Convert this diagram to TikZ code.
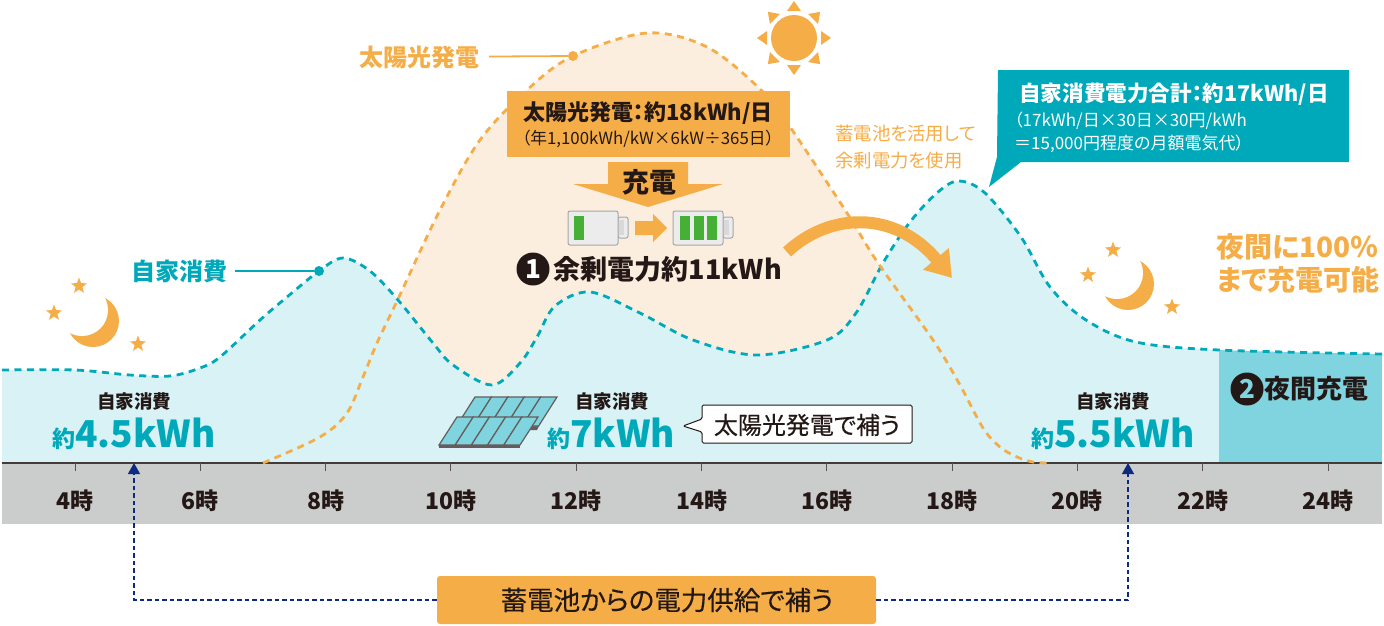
\documentclass[tikz,border=0pt]{standalone}
\usepackage{fontspec}
\setmainfont[RawFeature=+palt]{Noto Sans CJK JP}
\newfontfamily\medfont[RawFeature=+palt, FakeBold=0.35]{Noto Sans CJK JP}
\usetikzlibrary{positioning, arrows.meta, shapes.geometric}
\definecolor{sunorange}{HTML}{F5AD47}
\definecolor{solarfill}{HTML}{FCEEDF}
\definecolor{loadteal}{HTML}{00A9BA}
\definecolor{loadfill}{HTML}{D8F2F6}
\definecolor{nightfill}{HTML}{7FD4DF}
\definecolor{bandgray}{HTML}{CBCCCC}
\definecolor{inkdark}{HTML}{231815}
\definecolor{supplynavy}{HTML}{0B2A80}
\definecolor{cellgreen}{HTML}{45B035}
\newcommand{\fsize}[1]{\fontsize{#1}{#1}\selectfont}
\newcommand{\solarcurve}{plot[smooth, tension=0.55] coordinates {(263,463) (320,437) (347,413) (363,377) (377,343) (398,299) (440,210) (480,140) (527,90) (573,56) (647,33) (707,47) (760,89) (790,127) (847,213) (878,263) (933,340) (960,385) (983,428) (1000,447) (1017,457) (1033,462) (1048,463)}}
\newcommand{\loadcurve}{plot[smooth, tension=0.55] coordinates {(2,370) (75,370) (130,375) (170,376) (200,368) (220,357) (260,320) (287,297) (319,271) (343,258) (370,271) (398,300) (433,343) (453,365) (492,385) (520,363) (537,337) (555,306) (590,292) (640,313) (693,340) (757,355) (827,340) (856,313) (883,263) (910,222) (938,192) (959,181) (985,193) (1021,237) (1050,287) (1086,320) (1136,342) (1219,350) (1382,354)}}
\tikzset{
  x=1pt, y=-1pt,
  curveline/.style={line width=2.8pt, dash pattern=on 7pt off 5.5pt},
  leader/.style={line width=1.8pt},
  leaderdot/.style={circle, inner sep=0pt, minimum size=10pt},
  starmark/.style={star, star points=5, star point ratio=2.4, inner sep=0pt, minimum size=17pt, fill=sunorange},
  numbadge/.style={circle, fill=inkdark, inner sep=0pt, minimum size=33pt, font=\fsize{26}\bfseries},
  usagetitle/.style={font=\fsize{18.5}\bfseries, text=inkdark, inner sep=0pt},
  usageamount/.style={anchor=base, text=loadteal, font=\bfseries, inner sep=0pt},
  hourlabel/.style={font=\fsize{23}\bfseries, text=inkdark, inner sep=0pt},
  battery/.pic={
    \draw[line width=1pt, draw=gray!70, fill=gray!15, rounded corners=2pt] (50,6) rectangle (60,27);
    \fill[gray!30] (50,9) rectangle (56,24);
    \draw[line width=1pt, draw=gray!70, fill=gray!15, rounded corners=2pt] (0,0) rectangle (50,34);
  },
  moon/.pic={
    \fill[sunorange] (0,0) circle (26pt);
    \fill[white] (-11,-11) circle (26pt);
  },
  dropline/.style={line width=1.3pt, draw=supplynavy, dash pattern=on 4.5pt off 3pt},
}
\begin{document}
\begin{tikzpicture}
  \useasboundingbox (0,0) rectangle (1384,625);

  % areas
  \fill[solarfill] \solarcurve -- cycle;
  \fill[loadfill] \loadcurve -- (1382,463) -- (2,463) -- cycle;
  \begin{scope}
    \clip \loadcurve -- (1382,463) -- (2,463) -- cycle;
    \fill[nightfill] (1219,340) rectangle (1382,463);
  \end{scope}
  \fill[bandgray] (2,463) rectangle (1382,524);

  % axis
  \draw[line width=1.2pt, inkdark!85] (2,463) -- (1382,463);
  \foreach \h [count=\i from 0] in {4,6,...,24} {
    \draw[line width=1pt, inkdark!75] (75+125.3*\i,463) -- (75+125.3*\i,471);
    \node[hourlabel] (hour\h) at (75+125.3*\i,501) {\h 時};
  }

  % curves
  \draw[curveline, loadteal] \loadcurve;
  \draw[curveline, sunorange] \solarcurve;

  % curve labels
  \node[font=\fsize{24}\bfseries, text=sunorange, inner sep=0pt] (solarlabel) at (419,57) {太陽光発電};
  \node[leaderdot, fill=sunorange] (solardot) at (573,56) {};
  \draw[leader, sunorange, shorten <=10pt] (solarlabel) -- (solardot);
  \node[font=\fsize{24}\bfseries, text=loadteal, inner sep=0pt] (loadlabel) at (179,271) {自家消費};
  \node[leaderdot, fill=loadteal] (loaddot) at (319,271) {};
  \draw[leader, loadteal, shorten <=8pt] (loadlabel) -- (loaddot);

  % sun
  \fill[sunorange] (794,38) circle (23pt);
  \foreach \a in {0,45,...,315} {
    \fill[sunorange, rotate around={\a:(794,38)}] (831,38) -- (821,31) -- (821,45) -- cycle;
  }

  % moons and stars
  \pic at (93,321) {moon};
  \pic at (1128,284) {moon};
  \foreach \p [count=\n] in {(79,286),(54,313),(138,344),(1113,250),(1088,275),(1172,307)} {
    \node[starmark] (star\n) at \p {};
  }

  % generation box
  \node[fill=sunorange, minimum width=283pt, minimum height=66pt, inner sep=0pt] (genbox) at (648.5,124) {};
  \node[font=\fsize{22}\bfseries, text=inkdark, inner sep=0pt] (gentitle) at (648,113) {太陽光発電：約18kWh/日};
  \node[font=\fsize{16.8}, text=inkdark, inner sep=0pt] (gennote) at (648,139) {（年1,100kWh/kW×6kW÷365日）};

  % charge arrow
  \fill[sunorange] (608,162) -- (688,162) -- (688,184) -- (723,184) -- (648,207) -- (573,184) -- (608,184) -- cycle;
  \node[font=\fsize{27}\bfseries, text=inkdark, inner sep=0pt] (chargelabel) at (649,182) {充電};

  % batteries
  \pic at (568,211) {battery};
  \pic at (673,211) {battery};
  \fill[cellgreen] (574,216) rectangle (584,240);
  \foreach \b in {680,693.5,707} {
    \fill[cellgreen] (\b,216) rectangle (\b+10,240);
  }
  \fill[sunorange] (635,221) -- (653,221) -- (653,214) -- (667,228) -- (653,242) -- (653,235) -- (635,235) -- cycle;

  % surplus
  \node[numbadge, text=white] (badgeone) at (533,269) {1};
  \node[font=\fsize{27}\bfseries, text=inkdark, inner sep=0pt, right=4pt of badgeone] (surplus) {余剰電力約11kWh};
  \coordinate (surplusfrom) at (787,252);
  \coordinate (surplusto) at (952,278);
  \draw[line width=12pt, sunorange, -{Triangle[length=25pt, width=32pt]}] (surplusfrom) .. controls (830,212) and (895,210) .. (surplusto);
  \node[font=\fontsize{18.4}{27}\selectfont, text=sunorange, align=left, inner sep=0pt, anchor=north west] (usenote) at (835,125) {蓄電池を活用して\\余剰電力を使用};

  % total callout
  \fill[loadteal] (998,70) -- (1349,70) -- (1349,162) -- (1021,162) -- (989,187) -- (997,157) -- cycle;
  \node[font=\fsize{21.6}\bfseries, text=white, inner sep=0pt, anchor=west] (totaltitle) at (1019,94) {自家消費電力合計：約17kWh/日};
  \node[font=\fontsize{17}{23}\selectfont, text=white, align=left, inner sep=0pt, anchor=north west] (totalnote) at (1014,112) {（17kWh/日×30日×30円/kWh\\＝15,000円程度の月額電気代）};

  % night note
  \node[font=\fontsize{28}{33}\selectfont\bfseries, text=sunorange, align=left, inner sep=0pt] (nightnote) at (1298,263) {夜間に100％\\まで充電可能};

  % usage amounts
  \node[usagetitle] (usageamt) at (134,401) {自家消費};
  \node[usageamount] (amountam) at (134,447) {{\fsize{23}約}{\fsize{37}4.5kWh}};
  \node[usagetitle] (usagenoon) at (612,401) {自家消費};
  \node[usageamount] (amountnoon) at (611,447) {{\fsize{23}約}{\fsize{37}7kWh}};
  \node[usagetitle] (usagepm) at (1113,401) {自家消費};
  \node[usageamount] (amountpm) at (1113,447) {{\fsize{23}約}{\fsize{37}5.5kWh}};

  % solar panels
  \fill[inkdark!70] (522,426) -- (539,426) -- (537,430) -- (520,430) -- cycle;
  \foreach \i in {0,...,4} {
    \filldraw[line width=1.2pt, draw=inkdark!70, fill=nightfill] (475+16.4*\i,397) -- (491.4+16.4*\i,397) -- (473+16.4*\i,426) -- (456.6+16.4*\i,426) -- cycle;
  }
  \foreach \i in {0,...,4} {
    \filldraw[line width=1.2pt, draw=inkdark!70, fill=nightfill] (457+16.2*\i,417) -- (473.2+16.2*\i,417) -- (455.2+16.2*\i,445) -- (439+16.2*\i,445) -- cycle;
  }
  \fill[inkdark!70] (439,445) rectangle (520,448);

  % panel callout
  \filldraw[line width=1pt, draw=inkdark, fill=white, rounded corners=1.5pt] (702,405) -- (912,405) -- (912,443) -- (702,443) -- (702,432) -- (683,426) -- (702,419) -- cycle;
  \node[font=\fsize{24}\medfont, text=inkdark, inner sep=0pt] (panelnote) at (807,425) {太陽光発電で補う};

  % night charge
  \node[numbadge, text=nightfill] (badgetwo) at (1247,389) {2};
  \node[font=\fsize{26}\bfseries, text=inkdark, inner sep=0pt, right=1pt of badgetwo] (nightcharge) {夜間充電};

  % battery supply
  \node[fill=sunorange, rounded corners=3pt, minimum width=439pt, minimum height=48pt, inner sep=0pt, font=\fsize{26.5}\medfont, text=inkdark] (supply) at (656.5,600) {\hspace*{21pt}蓄電池からの電力供給で補う};
  \coordinate (leftin) at (134,463);
  \coordinate (rightin) at (1128,463);
  \draw[dropline, -{Triangle[length=11pt, width=12pt]}] (supply.west) -| (leftin);
  \draw[dropline, -{Triangle[length=11pt, width=12pt]}] (supply.east) -| (rightin);
\end{tikzpicture}
\end{document}
